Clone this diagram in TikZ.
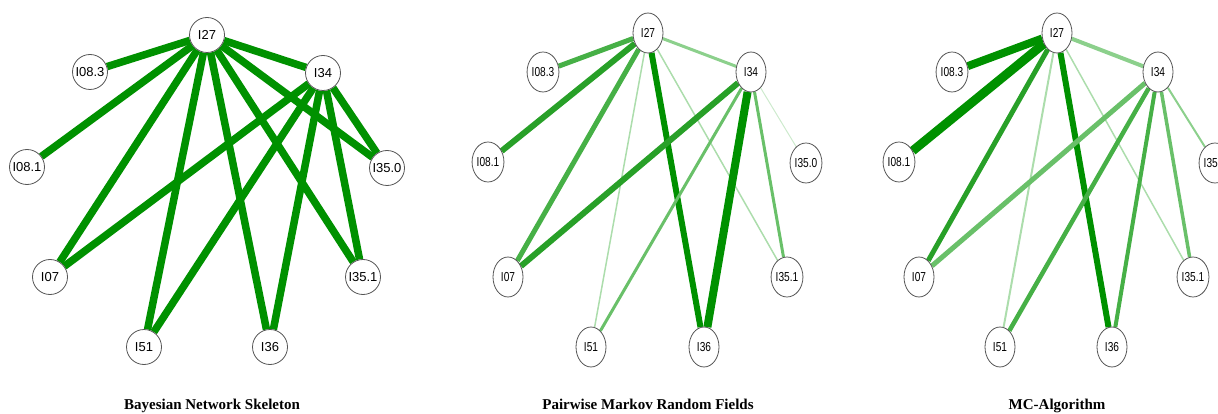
\documentclass[tikz,border=0pt]{standalone}
\usepackage{fontspec}
\setmainfont{Liberation Serif}
\newfontfamily\labelsans{Liberation Sans}
\newfontfamily\narrowsans[FakeStretch=0.78]{Liberation Sans}
\usetikzlibrary{shapes.geometric,backgrounds}

% edge shades, from strongest to faintest
\definecolor{gA}{RGB}{0,145,0}
\definecolor{gB}{RGB}{40,160,40}
\definecolor{gC}{RGB}{70,176,70}
\definecolor{gD}{RGB}{105,192,105}
\definecolor{gE}{RGB}{140,208,140}
\definecolor{gF}{RGB}{172,221,172}
\definecolor{gG}{RGB}{205,234,205}
\definecolor{ring}{RGB}{85,85,85}

\tikzset{
  roundvar/.style={circle, draw=ring, line width=0.8pt, fill=white,
    minimum size=35pt, inner sep=0pt,
    font=\labelsans\fontsize{13}{13}\selectfont},
  ovalvar/.style={ellipse, draw=ring, line width=0.8pt, fill=white,
    minimum width=30pt, minimum height=40pt, inner sep=0pt,
    font=\narrowsans\fontsize{13}{13}\selectfont},
  link/.style 2 args={line width=#1pt, draw=#2},
  paneltitle/.style={anchor=base, inner sep=0pt,
    font=\fontsize{15}{18}\selectfont\bfseries}
}

\begin{document}
\begin{tikzpicture}[x=1pt,y=-1pt]
\useasboundingbox (0,0) rectangle (1218,414);

% ---------- Bayesian network skeleton ----------
\node[roundvar] (a27)  at (207,35)  {I27};
\node[roundvar] (a083) at (90,72)   {I08.3};
\node[roundvar] (a34)  at (323,73)  {I34};
\node[roundvar] (a081) at (27,167)  {I08.1};
\node[roundvar] (a350) at (387,168) {I35.0};
\node[roundvar] (a07)  at (50,277)  {I07};
\node[roundvar] (a351) at (363,277) {I35.1};
\node[roundvar] (a51)  at (144,347) {I51};
\node[roundvar] (a36)  at (270,347) {I36};
\begin{scope}[on background layer]
  \foreach \t in {a083,a081,a07,a51,a36,a351,a350,a34}
    \draw[link={7.5}{gA}] (a27) -- (\t);
  \foreach \t in {a07,a51,a36,a350,a351}
    \draw[link={7.5}{gA}] (a34) -- (\t);
\end{scope}
\node[paneltitle] (ta) at (212,409) {Bayesian Network Skeleton};

% ---------- pairwise Markov random fields ----------
\node[ovalvar] (b27)  at (648,33)  {I27};
\node[ovalvar] (b083) at (543,72)  {I08.3};
\node[ovalvar] (b34)  at (751,72)  {I34};
\node[ovalvar] (b081) at (488,162) {I08.1};
\node[ovalvar] (b350) at (806,163) {I35.0};
\node[ovalvar] (b07)  at (508,277) {I07};
\node[ovalvar] (b351) at (787,277) {I35.1};
\node[ovalvar] (b51)  at (591,347) {I51};
\node[ovalvar] (b36)  at (704,347) {I36};
\begin{scope}[on background layer]
  \draw[link={5}{gC}]   (b27) -- (b083);
  \draw[link={6}{gB}]   (b27) -- (b081);
  \draw[link={5}{gC}]   (b27) -- (b07);
  \draw[link={1.5}{gF}] (b27) -- (b51);
  \draw[link={6}{gA}]   (b27) -- (b36);
  \draw[link={1.5}{gF}] (b27) -- (b351);
  \draw[link={3}{gE}]   (b27) -- (b34);
  \draw[link={6}{gB}]   (b34) -- (b07);
  \draw[link={3}{gD}]   (b34) -- (b51);
  \draw[link={8}{gA}]   (b34) -- (b36);
  \draw[link={3}{gD}]   (b34) -- (b351);
  \draw[link={1}{gG}]   (b34) -- (b350);
\end{scope}
\node[paneltitle] (tb) at (648,409) {Pairwise Markov Random Fields};

% ---------- MC algorithm ----------
\begin{scope}[xshift=409pt]
\node[ovalvar] (c27)  at (648,33)  {I27};
\node[ovalvar] (c083) at (543,72)  {I08.3};
\node[ovalvar] (c34)  at (749,72)  {I34};
\node[ovalvar] (c081) at (490,162) {I08.1};
\node[ovalvar] (c350) at (806,163) {I35.0};
\node[ovalvar] (c07)  at (510,277) {I07};
\node[ovalvar] (c351) at (784,277) {I35.1};
\node[ovalvar] (c51)  at (591,347) {I51};
\node[ovalvar] (c36)  at (703,347) {I36};
\begin{scope}[on background layer]
  \draw[link={8}{gA}]   (c27) -- (c083);
  \draw[link={9}{gA}]   (c27) -- (c081);
  \draw[link={5}{gB}]   (c27) -- (c07);
  \draw[link={2}{gF}]   (c27) -- (c51);
  \draw[link={6}{gA}]   (c27) -- (c36);
  \draw[link={1.5}{gF}] (c27) -- (c351);
  \draw[link={4}{gE}]   (c27) -- (c34);
  \draw[link={5}{gD}]   (c34) -- (c07);
  \draw[link={4.5}{gC}] (c34) -- (c51);
  \draw[link={4}{gC}]   (c34) -- (c36);
  \draw[link={3.5}{gD}] (c34) -- (c351);
  \draw[link={2}{gE}]   (c34) -- (c350);
\end{scope}
\node[paneltitle] (tc) at (648,409) {MC-Algorithm};
\end{scope}
\end{tikzpicture}
\end{document}
